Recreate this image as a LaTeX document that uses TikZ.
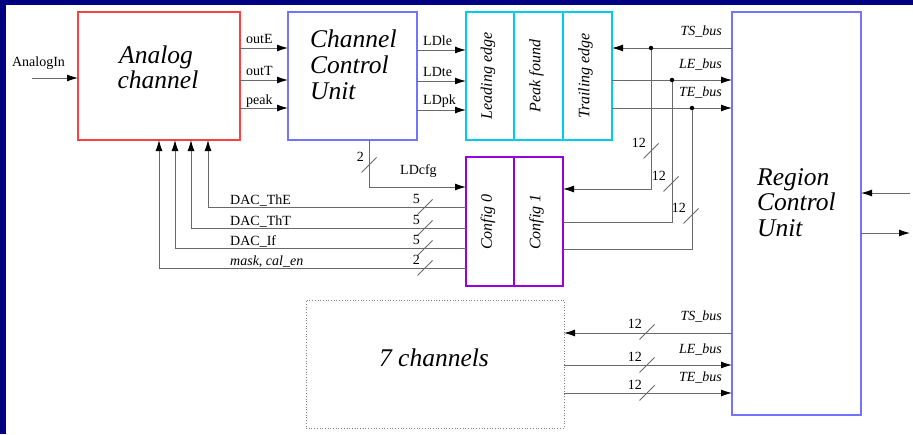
\documentclass[tikz,border=0pt]{standalone}
\usepackage{fontspec}
\setmainfont{Liberation Serif}
\usetikzlibrary{arrows.meta}
\definecolor{navyband}{RGB}{0,0,128}
\definecolor{redbox}{RGB}{255,64,64}
\definecolor{bluebox}{RGB}{115,115,255}
\definecolor{cyanbox}{RGB}{0,204,238}
\definecolor{purplebox}{RGB}{153,0,221}
\definecolor{wirecol}{RGB}{105,105,105}
\tikzset{
  box/.style={draw=#1, line width=2pt, inner sep=0pt, outer sep=0pt},
  wire/.style={draw=wirecol, line width=0.9pt},
  arr/.style={wire, -{Latex[length=11pt,width=7pt,color=black]}},
  lbl/.style={font=\fontsize{14}{16}\selectfont, inner sep=0pt},
  buslbl/.style={font=\fontsize{14}{16}\selectfont\itshape, inner sep=0pt},
  bigtxt/.style={font=\fontsize{25.5}{27}\selectfont\itshape, inner sep=0pt},
  rottxt/.style={font=\fontsize{16}{18}\selectfont\itshape, rotate=90, inner sep=0pt},
  jdot/.style={circle, fill=black, inner sep=0pt, minimum size=4.5pt},
  pics/busmark/.style={code={
    \draw[wire] (-7.5,7.5) -- (7.5,-7.5);
    \node[lbl, anchor=base east] (-num) at (-5,-4) {#1};
  }}
}
\begin{document}
\begin{tikzpicture}[x=1pt,y=-1pt]
\useasboundingbox (0,0) rectangle (913,434);
\fill[white] (0,0) rectangle (913,434);
\fill[navyband] (0,0) rectangle (913,5);
\fill[navyband] (0,0) rectangle (6,434);

% boxes
\node[box=redbox, minimum width=162pt, minimum height=128pt] (analog) at (159,76) {};
\node[box=bluebox, minimum width=129pt, minimum height=128pt] (ccu) at (352.5,76) {};
\node[box=cyanbox, minimum width=48pt, minimum height=128pt] (cyan1) at (490,76) {};
\node[box=cyanbox, minimum width=49pt, minimum height=128pt] (cyan2) at (538.5,76) {};
\node[box=cyanbox, minimum width=49pt, minimum height=128pt] (cyan3) at (587.5,76) {};
\node[box=purplebox, minimum width=48pt, minimum height=129pt] (cfg0) at (490,221.5) {};
\node[box=purplebox, minimum width=49pt, minimum height=129pt] (cfg1) at (538.5,221.5) {};
\node[box=bluebox, minimum width=129pt, minimum height=403pt] (rcu) at (796.5,213.5) {};
\node[draw=gray, dotted, line width=0.7pt, inner sep=0pt, outer sep=0pt,
      minimum width=258pt, minimum height=128pt] (ch7) at (435,364) {};

% box texts
\node[bigtxt, anchor=base] (t-analog) at (156,63) {Analog};
\node[bigtxt, anchor=base] (t-channel) at (158,88) {channel};
\node[bigtxt, anchor=base west] (t-ccu1) at (310,47) {Channel};
\node[bigtxt, anchor=base west] (t-ccu2) at (310,73) {Control};
\node[bigtxt, anchor=base west] (t-ccu3) at (310,99) {Unit};
\node[bigtxt, anchor=base west] (t-rcu1) at (757,185) {Region};
\node[bigtxt, anchor=base west] (t-rcu2) at (757,210) {Control};
\node[bigtxt, anchor=base west] (t-rcu3) at (757,236) {Unit};
\node[bigtxt, anchor=base] (t-ch7) at (434,366) {7 channels};
\node[rottxt] (t-le) at (488,76) {Leading edge};
\node[rottxt] (t-pf) at (536.5,76) {Peak found};
\node[rottxt] (t-te) at (585.5,76) {Trailing edge};
\node[rottxt] (t-c0) at (488,222) {Config 0};
\node[rottxt] (t-c1) at (536.5,222) {Config 1};

% analog input
\coordinate (ain) at (32,78);
\draw[arr] (ain) -- (ain -| analog.west);
\node[lbl, anchor=base] (l-ain) at (38.5,66) {AnalogIn};

% analog -> ccu
\coordinate (yE) at (0,48);
\coordinate (yT) at (0,80);
\coordinate (yP) at (0,108);
\draw[arr] (analog.east |- yE) -- (ccu.west |- yE);
\draw[arr] (analog.east |- yT) -- (ccu.west |- yT);
\draw[arr] (analog.east |- yP) -- (ccu.west |- yP);
\node[lbl, anchor=base west] (l-oute) at (246,43) {outE};
\node[lbl, anchor=base west] (l-outt) at (246,75) {outT};
\node[lbl, anchor=base west] (l-peak) at (246,104) {peak};

% ccu -> cyan
\coordinate (yLe) at (0,50);
\coordinate (yLt) at (0,81);
\coordinate (yLp) at (0,110);
\draw[arr] (ccu.east |- yLe) -- (cyan1.west |- yLe);
\draw[arr] (ccu.east |- yLt) -- (cyan1.west |- yLt);
\draw[arr] (ccu.east |- yLp) -- (cyan1.west |- yLp);
\node[lbl, anchor=base west] (l-ldle) at (423,45) {LDle};
\node[lbl, anchor=base west] (l-ldte) at (423,76) {LDte};
\node[lbl, anchor=base west] (l-ldpk) at (423,104) {LDpk};

% buses top
\coordinate (yTS) at (0,48);
\coordinate (yLE) at (0,80);
\coordinate (yTE) at (0,108);
\draw[arr] (rcu.west |- yTS) -- (cyan3.east |- yTS);
\draw[arr] (cyan3.east |- yLE) -- (rcu.west |- yLE);
\draw[arr] (cyan3.east |- yTE) -- (rcu.west |- yTE);
\node[buslbl, anchor=base east] (l-ts1) at (722,35) {TS\_bus};
\node[buslbl, anchor=base east] (l-le1) at (722,68) {LE\_bus};
\node[buslbl, anchor=base east] (l-te1) at (722,96) {TE\_bus};

% junctions to config 1
\coordinate (jTS) at (651,48);
\coordinate (jLE) at (672,80);
\coordinate (jTE) at (692,108);
\coordinate (cTS) at (0,189);
\coordinate (cLE) at (0,222);
\coordinate (cTE) at (0,249);
\draw[arr] (jTS) |- (cfg1.east |- cTS);
\draw[wire] (jLE) |- (cfg1.east |- cLE);
\draw[wire] (jTE) |- (cfg1.east |- cTE);
\node[jdot] (d-ts) at (jTS) {};
\node[jdot] (d-le) at (jLE) {};
\node[jdot] (d-te) at (jTE) {};
\pic (m-ts) at (651,151) {busmark=12};
\pic (m-le) at (671,184) {busmark=12};
\pic (m-te) at (691,216) {busmark=12};

% LDcfg
\coordinate (xcfg) at (369,0);
\coordinate (ycfg) at (0,187);
\draw[arr] (ccu.south -| xcfg) |- (cfg0.west |- ycfg);
\pic (m-cfg) at (369,165) {busmark=2};
\node[lbl, anchor=base west] (l-ldcfg) at (400,174) {LDcfg};

% DAC lines
\coordinate (dA) at (208,207);
\coordinate (dB) at (191,228);
\coordinate (dC) at (175,248);
\coordinate (dD) at (159,268);
\draw[arr] (cfg0.west |- dA) -| (dA |- analog.south);
\draw[arr] (cfg0.west |- dB) -| (dB |- analog.south);
\draw[arr] (cfg0.west |- dC) -| (dC |- analog.south);
\draw[arr] (cfg0.west |- dD) -| (dD |- analog.south);
\node[lbl, anchor=base west] (l-the) at (230,204) {DAC\_ThE};
\node[lbl, anchor=base west] (l-tht) at (230,225) {DAC\_ThT};
\node[lbl, anchor=base west] (l-if) at (230,245) {DAC\_If};
\node[lbl, anchor=base west] (l-mask) at (230,265) {\itshape mask, cal\_en};
\pic (m-a) at (425,207) {busmark=5};
\pic (m-b) at (425,228) {busmark=5};
\pic (m-c) at (425,248) {busmark=5};
\pic (m-d) at (425,268) {busmark=2};

% bottom buses
\coordinate (bTS) at (0,333);
\coordinate (bLE) at (0,365);
\coordinate (bTE) at (0,393);
\draw[arr] (rcu.west |- bTS) -- (ch7.east |- bTS);
\draw[arr] (ch7.east |- bLE) -- (rcu.west |- bLE);
\draw[arr] (ch7.east |- bTE) -- (rcu.west |- bTE);
\node[buslbl, anchor=base east] (l-ts2) at (722,320) {TS\_bus};
\node[buslbl, anchor=base east] (l-le2) at (722,353) {LE\_bus};
\node[buslbl, anchor=base east] (l-te2) at (722,381) {TE\_bus};
\pic (m-bts) at (647,332) {busmark=12};
\pic (m-ble) at (647,365) {busmark=12};
\pic (m-bte) at (647,393) {busmark=12};

% RCU right side
\coordinate (rin) at (910,193);
\coordinate (rout) at (910,233);
\draw[arr] (rin) -- (rin -| rcu.east);
\draw[arr] (rcu.east |- rout) -- (rout);
\end{tikzpicture}
\end{document}
